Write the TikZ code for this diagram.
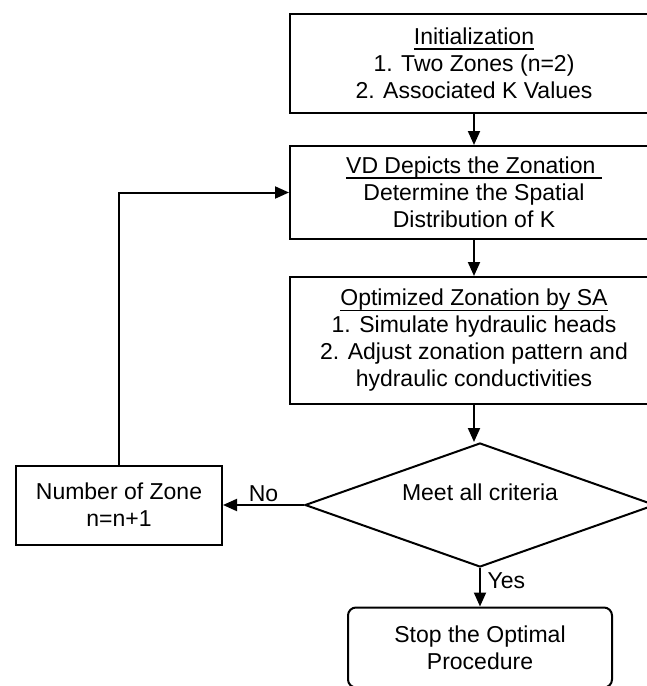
\documentclass[tikz,border=0pt]{standalone}
\usepackage{fontspec}
\setmainfont{Liberation Sans}
\usetikzlibrary{shapes.geometric,arrows.meta}
\newcommand{\uhead}[1]{\setbox0\hbox{#1}\rlap{\rule[-2.4pt]{\wd0}{0.6pt}}\box0}

\begin{document}
\begin{tikzpicture}[
        line width=1pt,
        >={Triangle[length=7pt,width=6pt]},
        every node/.style={font=\fontsize{11.5}{13.5}\selectfont},
        box/.style={draw, align=center, minimum width=184pt},
        decision/.style={draw, diamond, aspect=2.8, inner sep=0pt, minimum width=175pt, minimum height=62pt, text depth=13.3pt},
        zonebox/.style={draw, align=center, minimum width=103pt, minimum height=39.5pt},
        stopbox/.style={draw, rounded corners=4pt, align=center, minimum width=132pt, minimum height=40pt}
    ]
        \useasboundingbox (0,0) rectangle (323.5pt,-343pt);
        \clip (0,0) rectangle (323.5pt,-343pt);
        \node [box, minimum height=49.5pt] (1) at (237pt,-31.75pt) {\uhead{Initialization}\\1. Two Zones (n=2)\\2. Associated K Values};
        \node [box, minimum height=46.5pt, below of=1, node distance=64.5pt] (2) {\uhead{VD Depicts the Zonation\ }\\Determine the Spatial\\Distribution of K};
        \node [box, minimum height=63.5pt, below of=2, node distance=74pt] (3) {\uhead{Optimized Zonation by SA}\\1. Simulate hydraulic heads\\2. Adjust zonation pattern and\\hydraulic conductivities};
        \node [decision, below of=3, node distance=82.25pt, xshift=3pt] (4) {Meet all criteria};
        \node [stopbox, below of=4, node distance=71.25pt] (5) {Stop the Optimal\\Procedure};
        \node [zonebox, left of=4, node distance=180.5pt] (6) {Number of Zone\\n=n+1};
        \draw[->] (1) -- (2);
        \draw[->] (2) -- (3);
        \draw[->] (3.south) -- (3.south |- 4.north);
        \draw[->] (4) -- node [right, pos=0.33] {Yes} (5);
        \draw[->] (4) -- node [above, inner sep=1pt] {No} (6);
        \draw[->] (6) |- (2);
      \end{tikzpicture}
\end{document}
